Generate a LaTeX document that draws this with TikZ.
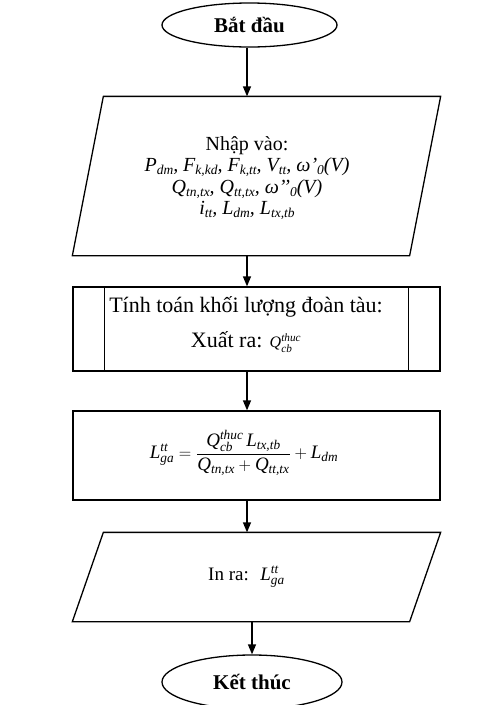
\documentclass[tikz,border=0pt]{standalone}
\usepackage{amsmath}
\usepackage{fontspec}
\setmainfont{Liberation Serif}
\usetikzlibrary{shapes.geometric,arrows.meta,positioning}
\newcommand\vi[1]{\text{\itshape #1}}
\newcommand\sbx[1]{\raisebox{-0.35ex}{\fontsize{13.5}{13.5}\selectfont\itshape #1}}
\begin{document}
\begin{tikzpicture}[x=1pt,y=1pt,
  line width=1.3pt,
  every node/.style={font=\fontsize{20}{21.5}\selectfont},
  term/.style={draw,ellipse,inner sep=0,font=\fontsize{21}{24}\selectfont\bfseries},
  iobox/.style={minimum width=336,inner sep=0},
  procbox/.style={draw,rectangle,minimum width=367,inner sep=0},
  arr/.style={-{Triangle[length=10pt,width=8pt]},line width=1.3pt}]
\useasboundingbox (0,0) rectangle (483,-705);
\coordinate (ax) at (247,0);
\node[term,minimum width=175,minimum height=44] (start) at (249.5,-25) {Bắt đầu};
\node[iobox,minimum height=158] (inp) at (256.5,-176) {};
\draw ([xshift=15.5]inp.north west) -- ([xshift=15.5]inp.north east) -- ([xshift=-15.5]inp.south east) -- ([xshift=-15.5]inp.south west) -- cycle;
\node[align=center] (inptxt) at (247,-178) {Nhập vào:\\
\itshape P\sbx{dm}, F\sbx{k,kd}, F\sbx{k,tt}, V\sbx{tt}, ω’\sbx{0}(V)\\
\itshape Q\sbx{tn,tx}, Q\sbx{tt,tx}, ω’’\sbx{0}(V)\\
\itshape i\sbx{tt}, L\sbx{dm}, L\sbx{tx,tb}};
\node[procbox,minimum height=84] (calc) at (256.5,-329) {};
\node[font=\fontsize{22}{24}\selectfont] (c1) at (246,-307) {Tính toán khối lượng đoàn tàu:};
\node[font=\fontsize{22}{24}\selectfont] (c2) at (246,-342) {Xuất ra: {\fontsize{16}{18}\selectfont$\vi{Q}_{\vi{cb}}^{\vi{thuc}}$}};
\draw ([xshift=32]calc.north west) -- ([xshift=32]calc.south west);
\draw ([xshift=-32]calc.north east) -- ([xshift=-32]calc.south east);
\node[procbox,minimum height=89] (form) at (256.5,-455.5) {};
\node[font=\fontsize{19}{21}\selectfont] (ftxt) at (244,-453) {$\vi{L}_{\vi{ga}}^{\vi{tt}}=\dfrac{\vi{Q}_{\vi{cb}}^{\vi{thuc}}\,\vi{L}_{\vi{tx,tb}}}{\vi{Q}_{\vi{tn,tx}}+\vi{Q}_{\vi{tt,tx}}}+\vi{L}_{\vi{dm}}$};
\node[iobox,minimum height=88] (out) at (256.5,-577) {};
\draw ([xshift=15.5]out.north west) -- ([xshift=15.5]out.north east) -- ([xshift=-15.5]out.south east) -- ([xshift=-15.5]out.south west) -- cycle;
\node[font=\fontsize{19}{21}\selectfont] (otxt) at (246.5,-577) {In ra:\; $\vi{L}_{\vi{ga}}^{\vi{tt}}$};
\node[term,minimum width=180,minimum height=54] (stop) at (252,-682) {Kết thúc};
\draw[arr] (start.south -| ax) -- (inp.north -| ax);
\draw[arr] (inp.south -| ax) -- (calc.north -| ax);
\draw[arr] (calc.south -| ax) -- (form.north -| ax);
\draw[arr] (form.south -| ax) -- (out.north -| ax);
\draw[arr] (out.south -| stop.north) -- (stop.north);
\end{tikzpicture}
\end{document}
